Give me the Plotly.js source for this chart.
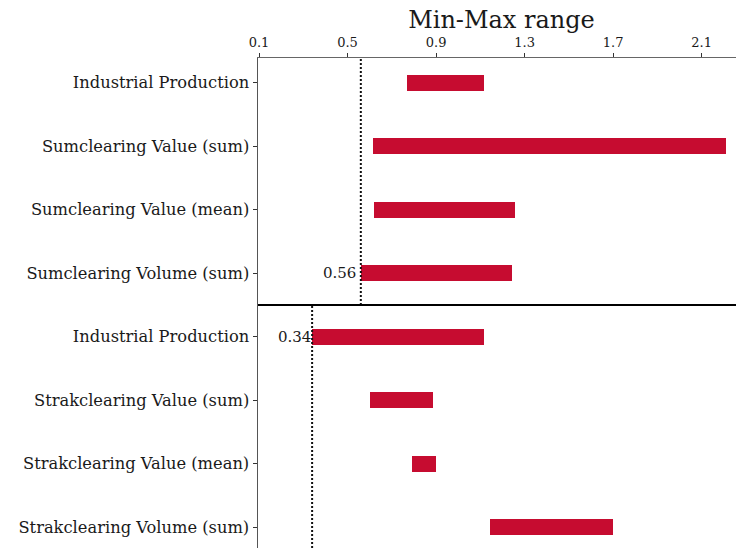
<!DOCTYPE html>
<html>
<head>
<meta charset="utf-8">
<script src="https://cdn.plot.ly/plotly-3.0.1.min.js"></script>
<style>html,body{margin:0;padding:0;background:#fff;}#chart{width:736px;height:548px;}</style>
</head>
<body>
<div id="chart"></div>
<script>
// Top panel (Sumclearing)
const topLabels = ["Industrial Production", "Sumclearing Value (sum)", "Sumclearing Value (mean)", "Sumclearing Volume (sum)"];
const topMin = [0.77, 0.615, 0.62, 0.56];
const topMax = [1.115, 2.21, 1.255, 1.245];
const topThreshold = 0.56;

// Bottom panel (Strakclearing)
const bottomLabels = ["Industrial Production", "Strakclearing Value (sum)", "Strakclearing Value (mean)", "Strakclearing Volume (sum)"];
const bottomMin = [0.34, 0.6, 0.79, 1.145];
const bottomMax = [1.115, 0.885, 0.9, 1.7];
const bottomThreshold = 0.34;

const xTicks = [0.1, 0.5, 0.9, 1.3, 1.7, 2.1];
const xTickText = ["0.1", "0.5", "0.9", "1.3", "1.7", "2.1"];

const barColor = "#C60C30";
const serif = "DejaVu Serif";
const W = 736, H = 548, ML = 258, MT = 58;
const splitPx = 305;
const plotH = H - MT;
const split = (H - splitPx) / plotH;

function spans(mins, maxs) { return maxs.map((v, i) => v - mins[i]); }

const traces = [
  {type: "bar", orientation: "h", y: topLabels, base: topMin, x: spans(topMin, topMax),
   xaxis: "x", yaxis: "y", marker: {color: barColor}, width: 0.25, hoverinfo: "none"},
  {type: "bar", orientation: "h", y: bottomLabels, base: bottomMin, x: spans(bottomMin, bottomMax),
   xaxis: "x2", yaxis: "y2", marker: {color: barColor}, width: 0.25, hoverinfo: "none"}
];

const xRange = [0.0955, 2.255];
const yAxisCommon = {
  type: "category", showline: true, linecolor: "#555", linewidth: 1.5,
  ticks: "outside", ticklen: 4, tickcolor: "#333", tickwidth: 1,
  showgrid: false, zeroline: false, fixedrange: true,
  tickfont: {family: serif, size: 16.3, color: "#1a1a1a"}, ticklabelstandoff: 0
};

const layout = {
  width: W, height: H,
  margin: {l: ML, r: 0, t: MT, b: 0, pad: 0},
  paper_bgcolor: "#fff", plot_bgcolor: "#fff",
  showlegend: false, bargap: 0,
  font: {family: serif, color: "#1a1a1a"},
  title: {text: "Min-Max range", font: {family: serif, size: 24, color: "#1a1a1a"},
          x: (501.5 - ML) / (W - ML), xref: "paper", xanchor: "center",
          y: 1 - 11 / H, yref: "container", yanchor: "top"},
  xaxis: {range: xRange, side: "top", anchor: "y", domain: [0, 1],
          tickvals: xTicks, ticktext: xTickText, showline: true, linecolor: "#666", linewidth: 1.5,
          ticks: "outside", ticklen: 4, tickcolor: "#333", showgrid: false, zeroline: false,
          tickfont: {family: serif, size: 13, color: "#1a1a1a"}, fixedrange: true},
  xaxis2: {range: xRange, anchor: "y2", domain: [0, 1], visible: false, fixedrange: true},
  yaxis: Object.assign({}, yAxisCommon, {domain: [split, 1], anchor: "x",
          categoryorder: "array", categoryarray: topLabels, range: [3.5, -0.389]}),
  yaxis2: Object.assign({}, yAxisCommon, {domain: [0, split], anchor: "x2",
          categoryorder: "array", categoryarray: bottomLabels, range: [3.326, -0.5]}),
  shapes: [
    {type: "line", xref: "x", yref: "y domain", x0: topThreshold, x1: topThreshold, y0: 0, y1: 1,
     line: {color: "#111", width: 2, dash: "2px,2px"}},
    {type: "line", xref: "x2", yref: "y2 domain", x0: bottomThreshold, x1: bottomThreshold, y0: 0, y1: 1,
     line: {color: "#111", width: 2, dash: "2px,2px"}},
    {type: "line", xref: "paper", yref: "paper", x0: 0, x1: 1, y0: split, y1: split,
     line: {color: "#000", width: 2}}
  ],
  annotations: [
    {text: topThreshold.toFixed(2), x: topThreshold, xref: "x", y: topLabels[3], yref: "y",
     xanchor: "right", yanchor: "middle", showarrow: false, xshift: -3,
     font: {family: serif, size: 15, color: "#1a1a1a"}},
    {text: bottomThreshold.toFixed(2), x: bottomThreshold, xref: "x2", y: bottomLabels[0], yref: "y2",
     xanchor: "right", yanchor: "middle", showarrow: false, xshift: 1,
     font: {family: serif, size: 15, color: "#1a1a1a"}}
  ]
};

Plotly.newPlot("chart", traces, layout, {displayModeBar: false, staticPlot: true});
</script>
</body>
</html>
